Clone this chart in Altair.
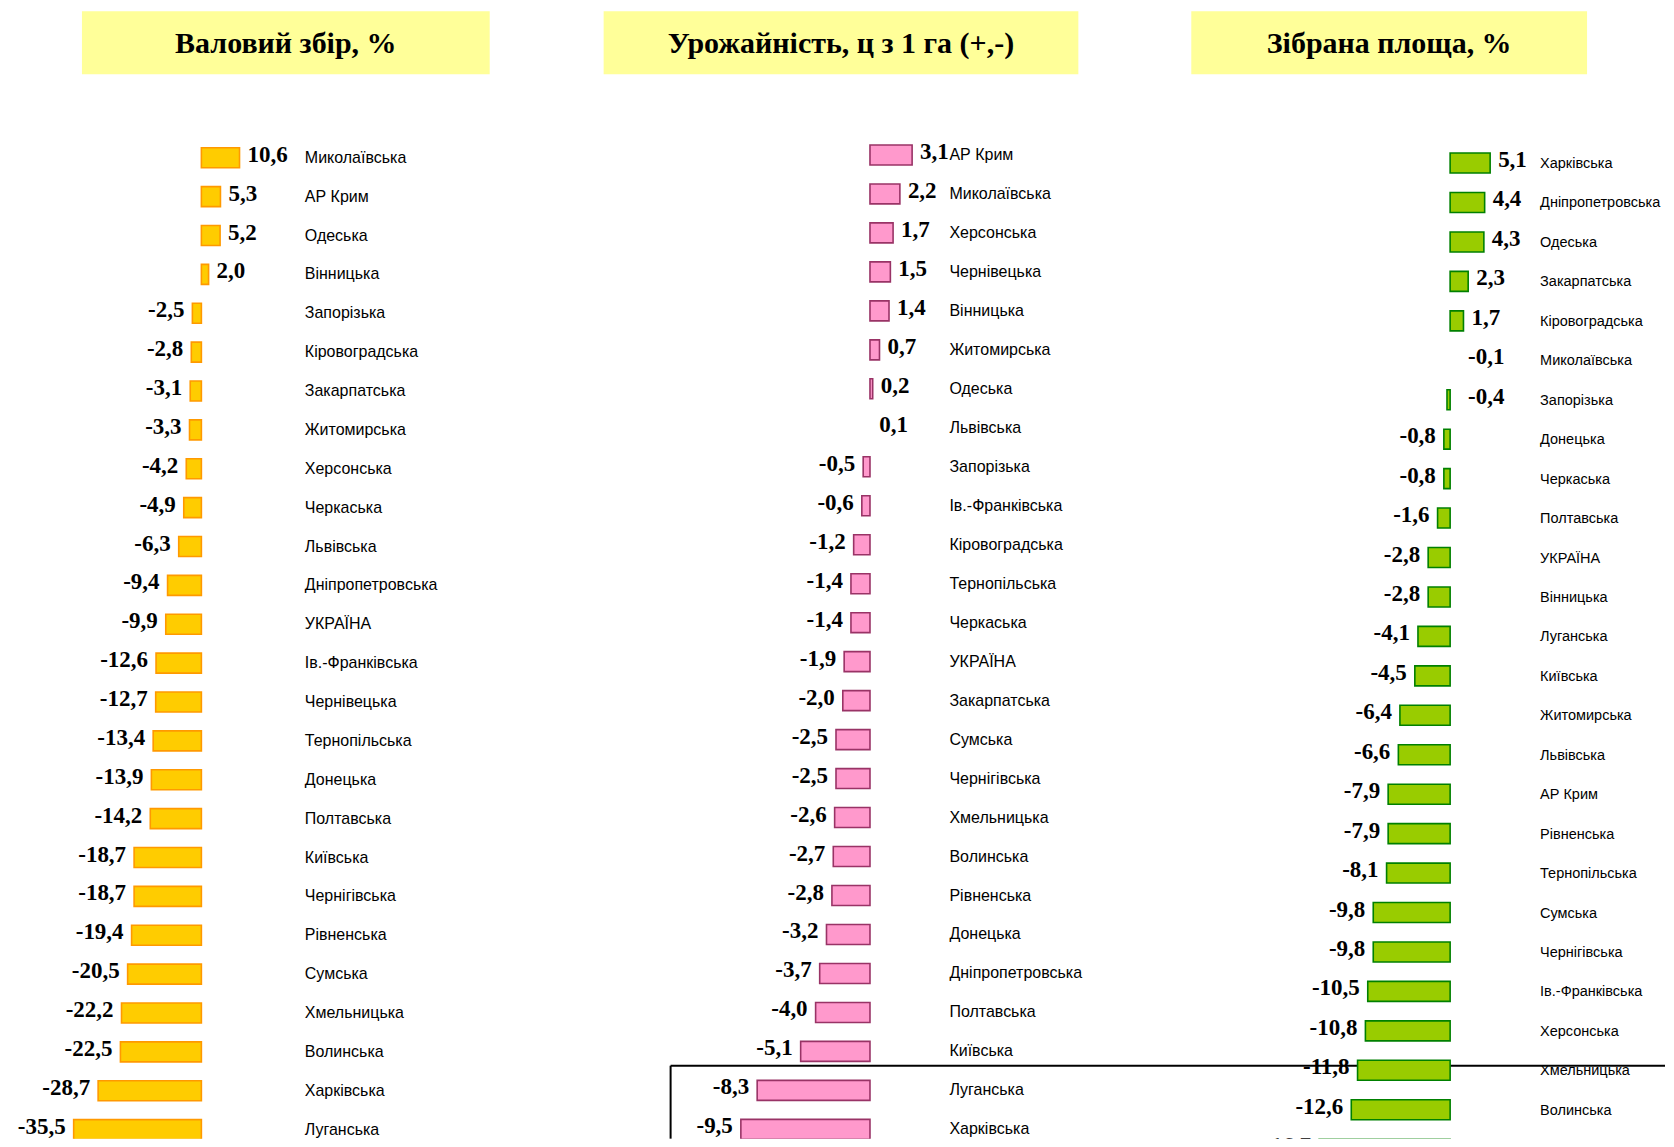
import altair as alt
import pandas as pd

# ---------------- data ----------------
titles = ["Валовий збір, %", "Урожайність, ц з 1 га (+,-)", "Зібрана площа, %"]

gross_regions = ["Миколаївська", "АР Крим", "Одеська", "Вінницька", "Запорізька",
                 "Кіровоградська", "Закарпатська", "Житомирська", "Херсонська", "Черкаська",
                 "Львівська", "Дніпропетровська", "УКРАЇНА", "Ів.-Франківська", "Чернівецька",
                 "Тернопільська", "Донецька", "Полтавська", "Київська", "Чернігівська",
                 "Рівненська", "Сумська", "Хмельницька", "Волинська", "Харківська", "Луганська"]
gross_values = [10.6, 5.3, 5.2, 2.0, -2.5, -2.8, -3.1, -3.3, -4.2, -4.9, -6.3, -9.4, -9.9,
                -12.6, -12.7, -13.4, -13.9, -14.2, -18.7, -18.7, -19.4, -20.5, -22.2, -22.5,
                -28.7, -35.5]

yield_regions = ["АР Крим", "Миколаївська", "Херсонська", "Чернівецька", "Вінницька",
                 "Житомирська", "Одеська", "Львівська", "Запорізька", "Ів.-Франківська",
                 "Кіровоградська", "Тернопільська", "Черкаська", "УКРАЇНА", "Закарпатська",
                 "Сумська", "Чернігівська", "Хмельницька", "Волинська", "Рівненська",
                 "Донецька", "Дніпропетровська", "Полтавська", "Київська", "Луганська", "Харківська"]
yield_values = [3.1, 2.2, 1.7, 1.5, 1.4, 0.7, 0.2, 0.1, -0.5, -0.6, -1.2, -1.4, -1.4, -1.9,
                -2.0, -2.5, -2.5, -2.6, -2.7, -2.8, -3.2, -3.7, -4.0, -5.1, -8.3, -9.5]

area_regions = ["Харківська", "Дніпропетровська", "Одеська", "Закарпатська", "Кіровоградська",
                "Миколаївська", "Запорізька", "Донецька", "Черкаська", "Полтавська",
                "УКРАЇНА", "Вінницька", "Луганська", "Київська", "Житомирська",
                "Львівська", "АР Крим", "Рівненська", "Тернопільська", "Сумська",
                "Чернігівська", "Ів.-Франківська", "Херсонська", "Хмельницька", "Волинська",
                "Чернівецька"]
area_values = [5.1, 4.4, 4.3, 2.3, 1.7, -0.1, -0.4, -0.8, -0.8, -1.6, -2.8, -2.8, -4.1, -4.5,
               -6.4, -6.6, -7.9, -7.9, -8.1, -9.8, -9.8, -10.5, -10.8, -11.8, -12.6, -16.7]

# ---------------- layout (page pixels) ----------------
M = 8
W, H = 1674 - 2 * M, 1147 - 2 * M

panels = [
    dict(regions=gross_regions, values=gross_values, title=titles[0],
         zero=201.5, k=3.6, row0=157.5, step=38.9, label_x=305, name_font=16,
         box=(82, 490), fill="#FFCC00", stroke="#FF9900", right_min=0.0),
    dict(regions=yield_regions, values=yield_values, title=titles[1],
         zero=870.5, k=13.6, row0=154.7, step=39.0, label_x=950, name_font=16,
         box=(604, 1079), fill="#FF99CC", stroke="#993366", right_min=0.0),
    dict(regions=area_regions, values=area_values, title=titles[2],
         zero=1451.0, k=7.85, row0=162.8, step=39.47, label_x=1541, name_font=14.5,
         box=(1192, 1588), fill="#99CC00", stroke="#008000", right_min=-0.5),
]

BAR_HALF = 10.0
VAL_FONT = 23
TITLE_FONT = 30
LABEL_EXPR = "(datum.value < 0 ? '-' : '') + replace(format(abs(datum.value), '.1f'), '.', ',')"

layers = []

# decorative frame lines (drawn beneath the bars)
one = pd.DataFrame({"d": [0]})
layers.append(alt.Chart(one).mark_rule(color="black", strokeWidth=2).encode(
    x=alt.value(671 - M), x2=alt.value(W), y=alt.value(1066 - M)))
layers.append(alt.Chart(one).mark_rule(color="black", strokeWidth=2).encode(
    x=alt.value(671 - M), y=alt.value(1066 - M), y2=alt.value(H)))

for p in panels:
    df = pd.DataFrame({"region": p["regions"], "value": p["values"],
                       "rank": list(range(len(p["values"])))})
    zx = p["zero"] - M
    xdom = [-zx / p["k"], (W - zx) / p["k"]]
    zy = p["row0"] - M
    ydom = [-zy / p["step"], (H - zy) / p["step"]]
    xs = alt.Scale(domain=xdom, nice=False, zero=False)
    ys = alt.Scale(domain=ydom, nice=False, zero=False, reverse=True)
    h = BAR_HALF / p["step"]

    base = alt.Chart(df).transform_calculate(
        zero="0",
        top=f"datum.rank - {h}",
        bot=f"datum.rank + {h}",
        anchor="max(datum.value, 0)",
        label=LABEL_EXPR,
    )

    # bars thinner than ~1.5px are not drawn (as in the source)
    bars = base.transform_filter(f"abs(datum.value) * {p['k']} >= 1.5").mark_rect(
        fill=p["fill"], stroke=p["stroke"], strokeWidth=1.6, clip=True
    ).encode(
        x=alt.X("value:Q", scale=xs, axis=None),
        x2=alt.X2("zero:Q"),
        y=alt.Y("top:Q", scale=ys, axis=None),
        y2=alt.Y2("bot:Q"),
    )
    txt = dict(baseline="alphabetic", dy=4, font="Liberation Serif",
               fontWeight="bold", fontSize=VAL_FONT, color="black", clip=True)
    right_lbl = base.transform_filter("datum.value >= 0").mark_text(
        align="left", dx=8, **txt
    ).encode(
        x=alt.X("anchor:Q", scale=xs, axis=None),
        y=alt.Y("rank:Q", scale=ys, axis=None),
        text="label:N",
    )
    right_neg_lbl = base.transform_filter(
        f"datum.value < 0 && datum.value >= {p['right_min']}").mark_text(
        align="left", dx=18, **txt
    ).encode(
        x=alt.X("anchor:Q", scale=xs, axis=None),
        y=alt.Y("rank:Q", scale=ys, axis=None),
        text="label:N",
    )
    left_lbl = base.transform_filter(f"datum.value < {p['right_min']}").mark_text(
        align="right", dx=-8, **txt
    ).encode(
        x=alt.X("value:Q", scale=xs, axis=None),
        y=alt.Y("rank:Q", scale=ys, axis=None),
        text="label:N",
    )
    names = base.mark_text(
        align="left", baseline="alphabetic", dy=5, font="Liberation Sans",
        fontSize=p["name_font"], color="black", clip=True
    ).encode(
        x=alt.value(p["label_x"] - M),
        y=alt.Y("rank:Q", scale=ys, axis=None),
        text="region:N",
    )

    tdf = pd.DataFrame({"t": [p["title"]]})
    x0, x1 = p["box"]
    box = alt.Chart(tdf).mark_rect(fill="#FFFF99").encode(
        x=alt.value(x0 - M), x2=alt.value(x1 - M), y=alt.value(11 - M), y2=alt.value(74 - M))
    ttl = alt.Chart(tdf).mark_text(
        align="center", baseline="alphabetic", font="Liberation Serif",
        fontWeight="bold", fontSize=TITLE_FONT, color="black"
    ).encode(x=alt.value((x0 + x1) / 2 - M), y=alt.value(53 - M), text="t:N")

    layers += [box, ttl, bars, right_lbl, right_neg_lbl, left_lbl, names]

chart = alt.layer(*layers).resolve_scale(x="independent", y="independent").properties(
    width=W, height=H, padding=0
).configure(background="white", view=alt.ViewConfig(stroke=None))

chart.save("out.html", embed_options={"renderer": "svg", "actions": False})
